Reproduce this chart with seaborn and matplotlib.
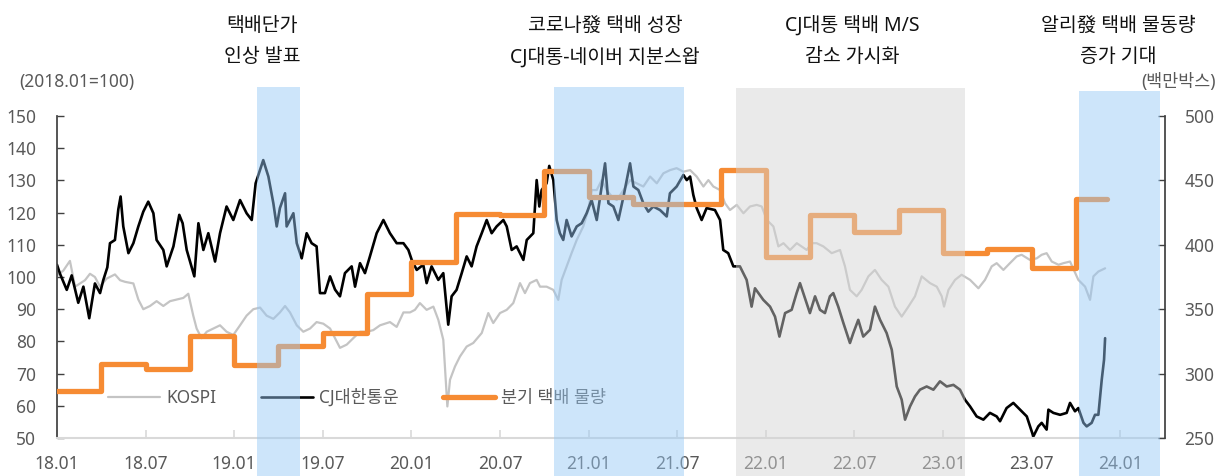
import numpy as np
import pandas as pd
import matplotlib.pyplot as plt
import matplotlib.transforms as mtransforms
import seaborn as sns

# ---- data (decimal years, index 2018.01=100) ----
kospi_t = [2018.000, 2018.036, 2018.073, 2018.102, 2018.130, 2018.158, 2018.186, 2018.214, 2018.243, 2018.280,
           2018.327, 2018.356, 2018.384, 2018.431, 2018.459, 2018.487, 2018.525, 2018.562, 2018.600, 2018.638,
           2018.675, 2018.713, 2018.741, 2018.769, 2018.788, 2018.816, 2018.845, 2018.882, 2018.920, 2018.957,
           2018.995, 2019.033, 2019.070, 2019.108, 2019.146, 2019.183, 2019.221, 2019.258, 2019.287, 2019.315,
           2019.353, 2019.390, 2019.428, 2019.465, 2019.503, 2019.541, 2019.578, 2019.597, 2019.635, 2019.672,
           2019.710, 2019.748, 2019.785, 2019.823, 2019.879, 2019.917, 2019.955, 2019.992,
           2020.020, 2020.048, 2020.086, 2020.124, 2020.152, 2020.180, 2020.203, 2020.218, 2020.246, 2020.274,
           2020.312, 2020.349, 2020.397, 2020.434, 2020.462, 2020.500, 2020.538, 2020.575, 2020.613, 2020.641,
           2020.669, 2020.707, 2020.726, 2020.763, 2020.801, 2020.829, 2020.848, 2020.876, 2020.904, 2020.933,
           2020.970, 2020.998, 2021.017, 2021.046, 2021.074, 2021.102, 2021.131, 2021.159, 2021.197, 2021.234,
           2021.272, 2021.309, 2021.347, 2021.385, 2021.422, 2021.460, 2021.497, 2021.535, 2021.573, 2021.610,
           2021.648, 2021.676, 2021.704, 2021.742, 2021.770, 2021.798, 2021.836, 2021.874, 2021.911, 2021.949,
           2021.977, 2022.006, 2022.043, 2022.071, 2022.100, 2022.137, 2022.175,
           2022.231, 2022.259, 2022.287, 2022.325, 2022.372, 2022.419, 2022.447, 2022.475, 2022.513, 2022.541,
           2022.579, 2022.616, 2022.654, 2022.692, 2022.729, 2022.767, 2022.805, 2022.842, 2022.880, 2022.927,
           2022.965, 2022.993, 2023.006, 2023.031, 2023.068, 2023.105, 2023.153, 2023.200, 2023.237, 2023.275,
           2023.303, 2023.341, 2023.378, 2023.416, 2023.444, 2023.491, 2023.529, 2023.557, 2023.585, 2023.614,
           2023.652, 2023.680, 2023.717, 2023.764, 2023.802, 2023.830, 2023.849, 2023.877, 2023.915]
kospi_v = [100.5, 102, 105, 97, 98, 99, 101, 100, 97, 99.5,
           100.8, 99, 98.5, 98, 93, 90, 91, 92.5, 91, 92.5,
           93, 93.5, 94.8, 88, 84, 81, 83, 84, 85, 83,
           82, 85, 88, 90, 90.5, 88, 87, 89, 91, 89,
           85, 83, 84, 86, 85.5, 84, 80, 78, 79, 81,
           83, 83, 83.5, 85, 86, 84.5, 89, 89,
           89.8, 91.9, 89.8, 90.8, 86.7, 80.5, 59.8, 68.1, 72.2, 75.3,
           78.4, 79.5, 82.6, 88.8, 85.7, 88.8, 89.8, 91.9, 98.1, 95,
           98.1, 99.1, 97, 97, 96, 92.9, 99.1, 103.3, 107.4, 111.5,
           115.7, 120.8, 127, 127, 130.1, 127, 125, 123.9, 127, 130.1,
           129.1, 128.1, 131.2, 129.1, 132.2, 133.2, 133.8, 132.7, 133.2, 131.2,
           128.1, 130.1, 128.1, 127, 122.9, 120.8, 122.4, 119.8, 121.9, 122.4,
           121.9, 117.7, 115.7, 109.5, 110.5, 108.4, 110.5,
           108.4, 110.5, 110.5, 109.5, 107.4, 108.4, 103.3, 96, 94, 96,
           100.2, 102.2, 99.1, 97, 90.8, 87.7, 90.8, 94, 100.2, 98.1,
           97, 94, 90.8, 96, 99.1, 100.7, 99.1, 96.5, 99.1, 103.3,
           104.3, 102.2, 104.3, 106.4, 106.9, 105.3, 105.8, 106.9, 107.4, 104.8,
           103.8, 104.3, 104.8, 99.1, 97, 92.9, 100.2, 101.7, 102.7]

cj_t = [2018.000, 2018.017, 2018.055, 2018.083, 2018.120, 2018.149, 2018.182, 2018.214, 2018.243, 2018.261,
        2018.284, 2018.299, 2018.327, 2018.346, 2018.359, 2018.374, 2018.403, 2018.431, 2018.459, 2018.487,
        2018.515, 2018.544, 2018.562, 2018.600, 2018.619, 2018.657, 2018.690, 2018.709, 2018.732, 2018.775,
        2018.798, 2018.826, 2018.854, 2018.892, 2018.920, 2018.957, 2018.995, 2019.033, 2019.070, 2019.099,
        2019.121, 2019.164, 2019.193, 2019.221, 2019.240, 2019.258, 2019.287, 2019.296, 2019.334, 2019.353,
        2019.381, 2019.409, 2019.437, 2019.465, 2019.484, 2019.512, 2019.541, 2019.569, 2019.597, 2019.625,
        2019.663, 2019.682, 2019.710, 2019.738, 2019.766, 2019.804, 2019.842, 2019.879, 2019.917, 2019.955,
        2019.983,
        2020.002, 2020.030, 2020.067, 2020.086, 2020.114, 2020.152, 2020.180, 2020.208, 2020.227, 2020.255,
        2020.284, 2020.312, 2020.340, 2020.368, 2020.397, 2020.425, 2020.453, 2020.481, 2020.519, 2020.538,
        2020.566, 2020.594, 2020.632, 2020.651, 2020.688, 2020.707, 2020.722, 2020.735, 2020.763, 2020.778,
        2020.801, 2020.820, 2020.838, 2020.857, 2020.876, 2020.904, 2020.933, 2020.961, 2020.989, 2021.017,
        2021.046, 2021.074, 2021.093, 2021.112, 2021.140, 2021.168, 2021.197, 2021.234, 2021.253, 2021.281,
        2021.309, 2021.337, 2021.365, 2021.403, 2021.441, 2021.459, 2021.497, 2021.535, 2021.554, 2021.573,
        2021.591, 2021.610, 2021.638, 2021.666, 2021.713, 2021.742, 2021.760, 2021.788, 2021.817, 2021.854,
        2021.892, 2021.920, 2021.939, 2021.986, 2022.024, 2022.052, 2022.077, 2022.109, 2022.146, 2022.174,
        2022.193,
        2022.221, 2022.249, 2022.278, 2022.306, 2022.334, 2022.362, 2022.381, 2022.409, 2022.438, 2022.475,
        2022.494, 2022.522, 2022.550, 2022.588, 2022.616, 2022.645, 2022.682, 2022.711, 2022.739, 2022.767,
        2022.786, 2022.814, 2022.842, 2022.870, 2022.908, 2022.946, 2022.983, 2023.021, 2023.059, 2023.096,
        2023.124, 2023.153, 2023.190, 2023.228, 2023.265, 2023.303, 2023.322, 2023.359, 2023.397, 2023.435,
        2023.473, 2023.510, 2023.538, 2023.557, 2023.585, 2023.595, 2023.623, 2023.661, 2023.698, 2023.717,
        2023.745, 2023.764, 2023.793, 2023.811, 2023.839, 2023.858, 2023.877, 2023.896, 2023.909, 2023.915]
cj_v = [103.8, 101, 96, 100.5, 92, 97, 87.2, 98, 95, 99,
        103, 110.5, 111.5, 121, 125, 115.7, 107.4, 110.5, 115.7, 120.3,
        123.4, 119.8, 111.5, 108.4, 103.3, 109.5, 119.3, 116.7, 108.4, 100.2,
        116.7, 108.4, 113.6, 104.8, 113.6, 121.9, 117.7, 123.9, 119.8, 117.7,
        129.1, 136.3, 131.2, 122.9, 115.7, 121.4, 126, 115.7, 119.8, 110.5,
        105.8, 113.6, 110.5, 109.5, 95, 95, 100.2, 96.1, 94, 101.2,
        103.3, 97, 104.3, 101.2, 106.4, 113.6, 117.7, 113.6, 110.5, 110.5,
        108.4,
        105.3, 102.2, 103.8, 98.1, 103.3, 99.1, 101.2, 85.2, 94, 96,
        101.2, 106.4, 103.3, 109.5, 113.6, 117.7, 113.6, 115.7, 117.7, 115.7,
        108.4, 109.5, 105.3, 111.5, 113.6, 130.1, 121.9, 127, 129.1, 134.5,
        130.1, 117.7, 113.6, 111.5, 117.7, 112.6, 115.7, 116.7, 119.8, 123.9,
        117.7, 128.1, 135.3, 122.9, 121.9, 117.7, 125, 135.3, 128.1, 127,
        122.9, 120.3, 121.9, 120.8, 118.8, 126, 128.1, 131.7, 130.1, 131.2,
        125.5, 121.4, 117.7, 121.4, 120.8, 117.7, 108.4, 107.4, 103.3, 103.3,
        99.1, 90.8, 96.5, 92.9, 90.8, 87.7, 81.5, 88.8, 89.8, 95,
        98.1,
        93.4, 88.8, 94, 89.8, 88.8, 94, 95, 90.8, 85.7, 79.5,
        82.6, 86.7, 81.5, 83.6, 90.8, 86.7, 82.6, 77.4, 66, 61.9,
        55.7, 59.8, 62.9, 65, 66, 65, 67.6, 66, 66.5, 65,
        61.9, 59.8, 56.7, 55.7, 57.8, 56.7, 55.2, 59.3, 60.9, 58.8,
        56.7, 50.5, 53.6, 54.7, 52.6, 58.8, 57.8, 57.2, 57.8, 60.9,
        58.3, 59.3, 54.7, 53.6, 54.7, 57.2, 57.2, 68.1, 74.3, 81]

# quarterly parcel volume (million boxes, right axis)
quarters = ['2018Q1', '2018Q2', '2018Q3', '2018Q4', '2019Q1', '2019Q2', '2019Q3', '2019Q4',
            '2020Q1', '2020Q2', '2020Q3', '2020Q4', '2021Q1', '2021Q2', '2021Q3', '2021Q4',
            '2022Q1', '2022Q2', '2022Q3', '2022Q4', '2023Q1', '2023Q2', '2023Q3', '2023Q4']
volume = [286.3, 307.5, 303.5, 329.5, 306.8, 321.7, 331.5, 361.7,
          386.7, 423.8, 423.0, 457.5, 436.8, 431.8, 431.8, 458.0,
          390.8, 423.0, 410.3, 427.0, 393.6, 396.5, 381.7, 435.5]
volume_end = 2023.925

xtick_labels = ['18.01', '18.07', '19.01', '19.07', '20.01', '20.07', '21.01',
                '21.07', '22.01', '22.07', '23.01', '23.07', '24.01']

# event periods: (start, end, colour, top in axes units)
events = [(2019.129, 2019.371, 'blue', 1.090),
          (2020.805, 2021.538, 'blue', 1.090),
          (2021.832, 2023.124, 'grey', 1.086),
          (2023.767, 2024.225, 'blue', 1.078)]
event_text_x = [2019.157, 2021.093, 2022.486, 2023.988]
event_text = [('택배단가', '인상 발표'),
              ('코로나發 택배 성장', 'CJ대통-네이버 지분스왑'),
              ('CJ대통 택배 M/S', '감소 가시화'),
              ('알리發 택배 물동량', '증가 기대')]

# quarter start -> decimal year, plus end point for the last step
q = pd.PeriodIndex(quarters, freq='Q')
vol_x = list(q.year + (q.quarter - 1) / 4) + [volume_end]
vol_y = volume + [volume[-1]]

sns.set_theme(style='white')
plt.rcParams['font.family'] = ['Noto Sans', 'Noto Sans CJK KR']

W, H = 1226, 476
fig = plt.figure(figsize=(W / 100, H / 100), dpi=100)
ax1 = fig.add_axes([57 / W, 38 / H, 1108 / W, 322 / H])
ax2 = ax1.twinx()

orange = '#f68b33'
sns.lineplot(x=kospi_t, y=kospi_v, ax=ax1, color='#c4c4c4', linewidth=1.6,
             estimator=None, sort=False, legend=False)
sns.lineplot(x=cj_t, y=cj_v, ax=ax1, color='black', linewidth=1.9,
             estimator=None, sort=False, legend=False)
sns.lineplot(x=vol_x, y=vol_y, ax=ax2, color=orange, linewidth=3.8,
             drawstyle='steps-post', estimator=None, sort=False, legend=False)

ax1.set_xlim(2018.0, 2024.253)
ax1.set_ylim(50, 150)
ax2.set_ylim(250, 500)
ax1.set_yticks(np.arange(50, 151, 10))
ax2.set_yticks(np.arange(250, 501, 50))
xt = [2000 + int(s[:2]) + (int(s[3:]) - 1) / 12 for s in xtick_labels]
ax1.set_xticks(xt)
ax1.set_xticklabels(xtick_labels)
ax1.set_xlabel('')
ax1.set_ylabel('')
ax2.set_ylabel('')

lab_col = '#595959'
ax1.tick_params(axis='y', direction='in', length=5, width=1, color='#404040',
                labelcolor=lab_col, labelsize=12.5, pad=15, left=True)
ax1.tick_params(axis='x', direction='in', length=6, width=1.2, color='#d9d9d9',
                labelcolor=lab_col, labelsize=12.5, pad=12.5, bottom=True)
ax2.tick_params(axis='y', direction='in', length=5, width=1, color='#404040',
                labelcolor=lab_col, labelsize=12.5, pad=14, right=True)

for s in ['top', 'right']:
    ax1.spines[s].set_visible(False)
ax1.spines['left'].set_color('#404040')
ax1.spines['bottom'].set_color('#d9d9d9')
ax1.spines['bottom'].set_linewidth(1.5)
for s in ['top', 'left', 'bottom']:
    ax2.spines[s].set_visible(False)
ax2.spines['right'].set_color('#404040')

# legend
handles = [ax1.get_lines()[0], ax1.get_lines()[1], ax2.get_lines()[0]]
leg = ax2.legend(handles, ['KOSPI', 'CJ대한통운', '분기 택배 물량'], loc='center left',
                 bbox_to_anchor=(108 / W, 1 - 398 / H), bbox_transform=fig.transFigure,
                 ncol=3, frameon=False, fontsize=12.5, handlelength=3.0, handletextpad=0.35,
                 columnspacing=2.55, borderpad=0, borderaxespad=0, labelcolor=lab_col)
leg.set_zorder(5)

# shaded event periods, drawn over the lines like a translucent overlay
span_col = {'blue': ('#96c8f5', 0.47), 'grey': ('#d4d4d4', 0.47)}
for x0, x1, c, top in events:
    col, a = span_col[c]
    ax2.axvspan(x0, x1, ymin=-38 / 322, ymax=top, color=col, alpha=a, lw=0,
                zorder=10, clip_on=False)

trans = mtransforms.blended_transform_factory(ax1.transData, fig.transFigure)
for xc, (l1, l2) in zip(event_text_x, event_text):
    fig.text(xc, 1 - 26 / H, l1, transform=trans, ha='center', va='center', fontsize=14, color='#111111')
    fig.text(xc, 1 - 57 / H, l2, transform=trans, ha='center', va='center', fontsize=14, color='#111111')

fig.text(19 / W, 1 - 82 / H, '(2018.01=100)', ha='left', va='center', fontsize=12.5, color=lab_col)
fig.text(1216 / W, 1 - 82 / H, '(백만박스)', ha='right', va='center', fontsize=12.5, color=lab_col)

fig.savefig('out.png', dpi=100)
